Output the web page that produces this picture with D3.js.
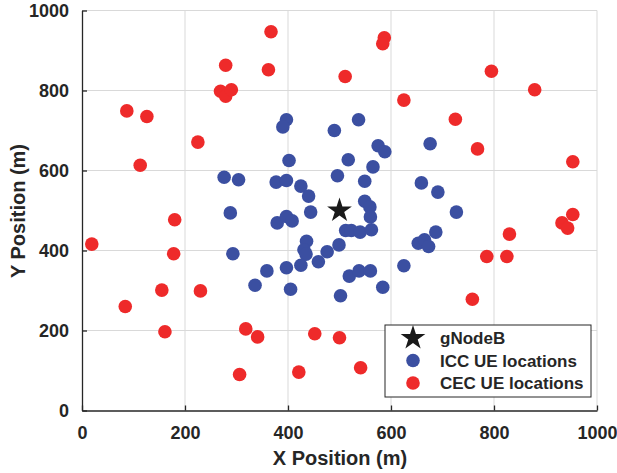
<!DOCTYPE html>
<html>
<head>
<meta charset="utf-8">
<script src="https://cdn.jsdelivr.net/npm/d3@7"></script>
<style>
  body { margin: 0; background: #fff; }
  text { font-family: "Liberation Sans", Arial, sans-serif; font-weight: bold; fill: #262626; }
</style>
</head>
<body>
<script>
// data (metres)
var gnb = [[500, 500]];

var iccX = [397, 390, 537, 490, 575, 588, 402, 517, 565, 276, 304, 377, 397, 425, 440, 496, 549, 676, 659, 691,
            727, 549, 559, 560, 444, 288, 293, 379, 397, 408, 436, 431, 435, 476, 459, 425, 397, 359, 336, 405,
            499, 502, 512, 523, 540, 562, 687, 653, 665, 673, 625, 519, 538, 560, 584];
var iccY = [727, 709, 727, 700, 662, 647, 625, 627, 609, 583, 577, 571, 575, 561, 536, 587, 573, 667, 569, 546,
            496, 523, 509, 484, 496, 494, 392, 469, 485, 474, 423, 402, 391, 397, 372, 363, 357, 349, 313, 303,
            414, 287, 450, 450, 446, 452, 446, 418, 427, 410, 362, 336, 349, 349, 308];

var cecX = [87, 126, 113, 225, 279, 367, 362, 269, 279, 290, 511, 587, 584, 795, 879, 625, 725, 768, 953, 953,
            932, 943, 830, 786, 825, 758, 500, 541, 19, 180, 178, 155, 230, 84, 161, 318, 341, 306, 421, 452];
var cecY = [749, 735, 613, 671, 863, 947, 852, 798, 786, 802, 835, 932, 917, 848, 802, 776, 728, 654, 622, 490,
            469, 456, 441, 385, 385, 278, 182, 107, 416, 477, 392, 301, 299, 260, 197, 204, 184, 90, 96, 192];

var ticks = [0, 200, 400, 600, 800, 1000];
var legendLabels = ["gNodeB", "ICC UE locations", "CEC UE locations"];

var blue = "#3b4fa1", red = "#ee2a2a";

var svg = d3.select("body")
            .append("svg")
            .attr("width", 617)
            .attr("height", 473)

var x = d3.scaleLinear().domain([0, 1000]).range([82, 597])
var y = d3.scaleLinear().domain([0, 1000]).range([410.5, 10.5])

// grid
var grid = svg.append("g")
grid.selectAll(".gx").data(ticks.slice(1)).enter().append("line")
    .attr("x1", d => x(d)).attr("x2", d => x(d))
    .attr("y1", y(0)).attr("y2", y(1000))
    .attr("stroke", "#d9d9d9").attr("stroke-width", 1)
grid.selectAll(".gy").data(ticks.slice(1)).enter().append("line")
    .attr("y1", d => y(d)).attr("y2", d => y(d))
    .attr("x1", x(0)).attr("x2", x(1000))
    .attr("stroke", "#d9d9d9").attr("stroke-width", 1)

// axes (inside ticks)
var xAxis = svg.append("g")
    .attr("transform", "translate(0," + y(0) + ")")
    .call(d3.axisBottom(x).tickValues(ticks).tickFormat(d3.format("d")).tickSizeInner(-5).tickSizeOuter(0).tickPadding(16))
var yAxis = svg.append("g")
    .attr("transform", "translate(" + x(0) + ",0)")
    .call(d3.axisLeft(y).tickValues(ticks).tickFormat(d3.format("d")).tickSizeInner(-5).tickSizeOuter(0).tickPadding(13))
svg.selectAll(".domain, .tick line").attr("stroke", "#262626").attr("stroke-width", 1.3)
svg.selectAll(".tick text").style("font-size", "18px").attr("fill", "#262626")
    .style("font-family", "'Liberation Sans', Arial, sans-serif").style("font-weight", "bold")

// labels
svg.append("text")
    .attr("x", 340).attr("y", 465)
    .attr("text-anchor", "middle")
    .style("font-size", "20px")
    .text("X Position (m)")
svg.append("text")
    .attr("transform", "translate(25,211) rotate(-90)")
    .attr("text-anchor", "middle")
    .style("font-size", "20px")
    .text("Y Position (m)")

// points
var star = d3.symbol().type(d3.symbolStar).size(190)

svg.append("g").selectAll("circle.icc")
    .data(d3.range(iccX.length)).enter().append("circle")
    .attr("cx", i => x(iccX[i])).attr("cy", i => y(iccY[i]))
    .attr("r", 6.8).attr("fill", blue)

svg.append("g").selectAll("circle.cec")
    .data(d3.range(cecX.length)).enter().append("circle")
    .attr("cx", i => x(cecX[i])).attr("cy", i => y(cecY[i]))
    .attr("r", 6.8).attr("fill", red)

svg.append("g").selectAll("path")
    .data(gnb).enter().append("path")
    .attr("d", star)
    .attr("transform", d => "translate(" + x(d[0]) + "," + y(d[1]) + ")")
    .attr("fill", "#1a1a1a")

// legend
var lg = svg.append("g").attr("transform", "translate(385,325)")
lg.append("rect")
    .attr("width", 206).attr("height", 72)
    .attr("fill", "#fff").attr("stroke", "#262626").attr("stroke-width", 1)
var rows = lg.selectAll(".row").data(legendLabels).enter().append("g")
    .attr("transform", (d, i) => "translate(0," + (13 + i * 22.5) + ")")
rows.append("text")
    .attr("x", 55).attr("y", 6)
    .style("font-size", "17px")
    .text(d => d)
rows.filter((d, i) => i == 0).append("path").attr("d", star)
    .attr("transform", "translate(28,0)").attr("fill", "#1a1a1a")
rows.filter((d, i) => i > 0).append("circle")
    .attr("cx", 28).attr("r", 6.8)
    .attr("fill", (d, i) => i == 0 ? blue : red)
</script>
</body>
</html>
